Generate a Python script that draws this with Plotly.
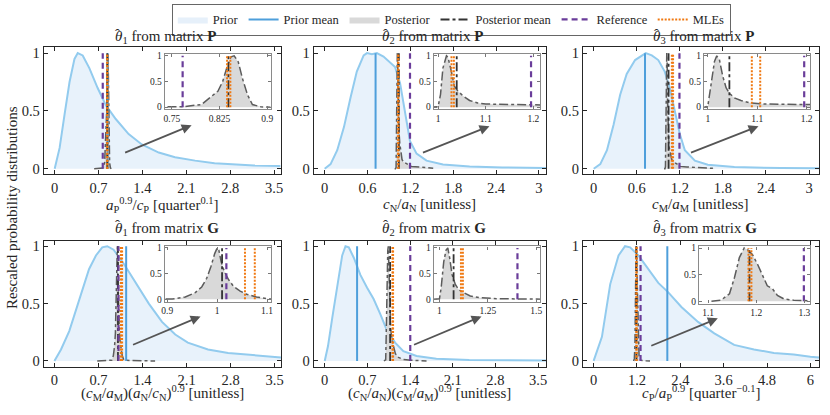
import plotly.graph_objects as go

# ---- panel text ----
titles = [
    "<i>θ</i><sub>1</sub> from matrix <b>P</b>",
    "<i>θ</i><sub>2</sub> from matrix <b>P</b>",
    "<i>θ</i><sub>3</sub> from matrix <b>P</b>",
    "<i>θ</i><sub>1</sub> from matrix <b>G</b>",
    "<i>θ</i><sub>2</sub> from matrix <b>G</b>",
    "<i>θ</i><sub>3</sub> from matrix <b>G</b>",
]
hat = "ˆ"
xlabels = [
    "<i>a</i><sub>P</sub><sup>0.9</sup>/<i>c</i><sub>P</sub> [quarter<sup>0.1</sup>]",
    "<i>c</i><sub>N</sub>/<i>a</i><sub>N</sub> [unitless]",
    "<i>c</i><sub>M</sub>/<i>a</i><sub>M</sub> [unitless]",
    "(<i>c</i><sub>M</sub>/<i>a</i><sub>M</sub>)(<i>a</i><sub>N</sub>/<i>c</i><sub>N</sub>)<sup>0.9</sup> [unitless]",
    "(<i>c</i><sub>N</sub>/<i>a</i><sub>N</sub>)(<i>c</i><sub>M</sub>/<i>a</i><sub>M</sub>)<sup>0.9</sup> [unitless]",
    "<i>c</i><sub>P</sub>/<i>a</i><sub>P</sub><sup>0.9</sup> [quarter<sup>−0.1</sup>]",
]
ylabel = "Rescaled probability distributions"

# ---- tick values ----
main_ticks = [
    [0, 0.7, 1.4, 2.1, 2.8, 3.5],
    [0, 0.6, 1.2, 1.8, 2.4, 3],
    [0, 0.6, 1.2, 1.8, 2.4, 3],
    [0, 0.7, 1.4, 2.1, 2.8, 3.5],
    [0, 0.7, 1.4, 2.1, 2.8, 3.5],
    [0, 1.2, 2.4, 3.6, 4.8, 6],
]
inset_ticks = [
    [0.75, 0.825, 0.9],
    [1, 1.1, 1.2],
    [1, 1.1, 1.2],
    [0.9, 1, 1.1],
    [1, 1.25, 1.5],
    [1.1, 1.2, 1.3],
]
y_ticks = [0, 0.5, 1]

# ---- prior curves ----
prior_x_P1 = [0, 0.079, 0.158, 0.237, 0.316, 0.368, 0.447, 0.553, 0.684, 0.816, 0.974, 1.18, 1.39, 1.66, 1.92, 2.24, 2.55, 2.87, 3.18, 3.6]
prior_y_P1 = [0, 0.18, 0.47, 0.75, 0.95, 1.0, 0.98, 0.87, 0.7, 0.55, 0.43, 0.3, 0.21, 0.14, 0.1, 0.07, 0.048, 0.037, 0.028, 0.023]
prior_x_P2 = [0, 0.083, 0.176, 0.27, 0.36, 0.45, 0.546, 0.593, 0.662, 0.731, 0.824, 0.917, 0.986, 1.056, 1.125, 1.194, 1.287, 1.426, 1.657, 2.03, 2.49, 3.1]
prior_y_P2 = [0, 0.04, 0.16, 0.36, 0.61, 0.84, 0.98, 1.0, 0.99, 1.0, 0.97, 0.92, 0.88, 0.74, 0.47, 0.24, 0.13, 0.07, 0.037, 0.02, 0.011, 0.006]
prior_x_P3 = [0, 0.092, 0.185, 0.277, 0.369, 0.46, 0.577, 0.669, 0.725, 0.81, 0.9, 0.99, 1.06, 1.13, 1.2, 1.27, 1.41, 1.59, 1.96, 2.61, 3.14]
prior_y_P3 = [0, 0.04, 0.16, 0.38, 0.64, 0.82, 0.94, 0.98, 1.0, 0.98, 0.94, 0.84, 0.7, 0.5, 0.3, 0.16, 0.07, 0.034, 0.014, 0.006, 0.003]
prior_x_G1 = [0, 0.105, 0.236, 0.39, 0.55, 0.66, 0.76, 0.84, 0.94, 1.1, 1.29, 1.5, 1.71, 1.92, 2.12, 2.44, 2.76, 3.07, 3.33, 3.6]
prior_y_G1 = [0, 0.1, 0.26, 0.53, 0.8, 0.92, 0.99, 1.0, 0.97, 0.85, 0.68, 0.5, 0.34, 0.23, 0.16, 0.1, 0.07, 0.057, 0.043, 0.03]
prior_x_G2 = [0, 0.054, 0.125, 0.206, 0.287, 0.341, 0.395, 0.477, 0.585, 0.693, 0.802, 0.91, 1.018, 1.154, 1.29, 1.506, 1.831, 2.37, 3.63]
prior_y_G2 = [0, 0.13, 0.38, 0.67, 0.92, 1.0, 0.99, 0.9, 0.75, 0.64, 0.54, 0.41, 0.27, 0.16, 0.085, 0.043, 0.02, 0.009, 0.003]
prior_x_G3 = [0, 0.23, 0.46, 0.69, 0.87, 1.01, 1.24, 1.51, 1.79, 2.06, 2.43, 2.89, 3.34, 3.89, 4.44, 4.99, 5.54, 6.0, 6.24]
prior_y_G3 = [0, 0.21, 0.67, 0.92, 1.0, 0.99, 0.92, 0.8, 0.68, 0.6, 0.47, 0.34, 0.24, 0.14, 0.1, 0.07, 0.057, 0.037, 0.03]

# ---- posterior curves ----
post_x_P1 = [0.63, 0.70, 0.7397, 0.7655, 0.7966, 0.8147, 0.8224, 0.830, 0.837, 0.843, 0.848, 0.8545, 0.861, 0.869, 0.8767, 0.890, 0.905]
post_y_P1 = [0, 0.002, 0.003, 0.006, 0.05, 0.24, 0.31, 0.5, 0.79, 0.98, 1.0, 0.88, 0.56, 0.24, 0.05, 0.006, 0.0]
post_x_P2 = [0.98, 0.991, 1.0, 1.005, 1.01, 1.0175, 1.0207, 1.0276, 1.034, 1.041, 1.052, 1.066, 1.083, 1.1, 1.134, 1.169, 1.197, 1.214, 1.3, 1.45, 1.52]
post_y_P2 = [0, 0, 0.01, 0.25, 0.76, 1.0, 0.97, 0.70, 0.41, 0.32, 0.22, 0.13, 0.08, 0.06, 0.045, 0.03, 0.025, 0.02, 0.015, 0.008, 0.004]
post_x_P3 = [0.98, 0.9933, 1.0, 1.0067, 1.0134, 1.018, 1.0235, 1.0302, 1.0369, 1.0436, 1.0537, 1.067, 1.087, 1.114, 1.148, 1.181, 1.207, 1.3, 1.5, 1.68]
post_y_P3 = [0, 0, 0.02, 0.43, 0.89, 1.0, 0.92, 0.6, 0.38, 0.27, 0.18, 0.13, 0.08, 0.06, 0.045, 0.03, 0.02, 0.015, 0.008, 0.003]
post_x_G1 = [0.68, 0.8, 0.896, 0.9098, 0.936, 0.956, 0.969, 0.979, 0.9875, 0.995, 1.0, 1.0033, 1.008, 1.0144, 1.023, 1.033, 1.046, 1.059, 1.0787, 1.105, 1.2, 1.4, 1.6]
post_y_G1 = [0, 0.002, 0.004, 0.006, 0.045, 0.13, 0.24, 0.41, 0.64, 0.89, 1.0, 0.96, 0.73, 0.54, 0.38, 0.25, 0.16, 0.1, 0.045, 0.006, 0.003, 0.001, 0]
post_x_G2 = [0.971, 1.0, 1.0085, 1.022, 1.034, 1.043, 1.053, 1.065, 1.082, 1.099, 1.125, 1.159, 1.21, 1.295, 1.415, 1.52, 1.67]
post_y_G2 = [0, 0.01, 0.22, 0.73, 0.96, 1.0, 0.8, 0.48, 0.29, 0.19, 0.13, 0.064, 0.03, 0.013, 0.006, 0.003, 0]
post_x_G3 = [1.107, 1.127, 1.1445, 1.155, 1.165, 1.175, 1.182, 1.192, 1.203, 1.213, 1.223, 1.234, 1.244, 1.258, 1.278, 1.312, 1.45, 1.56]
post_y_G3 = [0, 0.02, 0.14, 0.45, 0.82, 1.0, 0.97, 0.88, 0.69, 0.48, 0.29, 0.23, 0.11, 0.04, 0.02, 0.006, 0.002, 0]

# ---- summary values ----
prior_mean = [0.845, 0.713, 0.715, 1.14, 0.531, 2.04]
post_mean = [0.839, 1.039, 1.0436, 1.0098, 1.073, 1.186]
reference = [0.767, 1.195, 1.195, 1.0184, 1.403, 1.299]
mles = [
    [0.8369, 0.842],
    [1.028, 1.033],
    [1.089, 1.106],
    [1.0557, 1.0754],
    [1.111, 1.121],
    [1.184, 1.19],
]

prior_x = [prior_x_P1, prior_x_P2, prior_x_P3, prior_x_G1, prior_x_G2, prior_x_G3]
prior_y = [prior_y_P1, prior_y_P2, prior_y_P3, prior_y_G1, prior_y_G2, prior_y_G3]
post_x = [post_x_P1, post_x_P2, post_x_P3, post_x_G1, post_x_G2, post_x_G3]
post_y = [post_y_P1, post_y_P2, post_y_P3, post_y_G1, post_y_G2, post_y_G3]

# colours
PRIOR_LINE = "#92cbee"
PRIOR_FILL = "rgba(214,232,248,0.55)"
PRIOR_MEAN = "#4e9fdb"
POST_FILL = "#d9d9d9"
POST_LINE = "#5c5c5c"
POST_MEAN = "#333333"
REF = "#6a3d9a"
MLE = "#f07810"
AX = "#262626"
FONT = "Liberation Serif"

W, H = 830, 415

# pixel boxes (x0, x1, y0, y1) for main panels and insets
main_box = [
    (41, 280, 45, 174), (313, 547, 45, 174), (584, 822, 45, 174),
    (41, 280, 241, 369), (313, 547, 241, 369), (584, 822, 241, 369),
]
inset_box = [
    (163, 270, 52, 108), (434, 541, 52, 108), (706, 813, 52, 108),
    (163, 270, 247, 303), (434, 541, 247, 303), (701, 813, 247, 305),
]
main_range = [[-0.175, 3.61], [-0.153, 3.1], [-0.152, 3.14], [-0.17, 3.6], [-0.18, 3.63], [-0.3, 6.24]]
inset_range = [[0.739, 0.906], [0.991, 1.214], [0.992, 1.207], [0.895, 1.108], [0.971, 1.52], [1.081, 1.312]]
# arrows: tail (x, y) -> head (x, y) in pixels
arrows = [
    (122, 152, 190, 124), (422, 152, 490, 125), (692, 152, 761, 125),
    (130, 347, 199, 318), (413, 347, 482, 318), (652, 348, 720, 320),
]


def vlines(vals):
    xs, ys = [], []
    for v in vals:
        xs += [v, v, None]
        ys += [0, 1, None]
    return xs, ys


fig = go.Figure()

# legend-only entries
fig.add_trace(go.Scatter(x=[None], y=[None], mode="lines", fill="toself", fillcolor="#e6f0fa",
                         line=dict(width=0), name="Prior"))
fig.add_trace(go.Scatter(x=[None], y=[None], mode="lines", line=dict(color=PRIOR_MEAN, width=2),
                         name="Prior mean"))
fig.add_trace(go.Scatter(x=[None], y=[None], mode="lines", fill="toself", fillcolor=POST_FILL,
                         line=dict(width=0), name="Posterior"))
fig.add_trace(go.Scatter(x=[None], y=[None], mode="lines", line=dict(color=POST_MEAN, width=2, dash="dashdot"),
                         name="Posterior mean"))
fig.add_trace(go.Scatter(x=[None], y=[None], mode="lines", line=dict(color=REF, width=2.2, dash="6px,4px"),
                         name="Reference"))
fig.add_trace(go.Scatter(x=[None], y=[None], mode="lines", line=dict(color=MLE, width=2, dash="2px,1.5px"),
                         name="MLEs"))

for i in range(6):
    xa, ya = "x%d" % (i + 1), "y%d" % (i + 1)
    xi, yi = "x%d" % (i + 7), "y%d" % (i + 7)
    common = dict(showlegend=False, hoverinfo="skip")

    # main panel
    fig.add_trace(go.Scatter(x=prior_x[i], y=prior_y[i], mode="lines", fill="tozeroy", fillcolor=PRIOR_FILL,
                             line=dict(color=PRIOR_LINE, width=2), xaxis=xa, yaxis=ya, **common))
    fig.add_trace(go.Scatter(x=post_x[i], y=post_y[i], mode="lines", fill="tozeroy", fillcolor=POST_FILL,
                             line=dict(color=POST_LINE, width=1.5, dash="dashdot"), xaxis=xa, yaxis=ya, **common))
    lx, ly = vlines([prior_mean[i]])
    fig.add_trace(go.Scatter(x=lx, y=ly, mode="lines", line=dict(color=PRIOR_MEAN, width=2),
                             xaxis=xa, yaxis=ya, **common))
    lx, ly = vlines([post_mean[i]])
    fig.add_trace(go.Scatter(x=lx, y=ly, mode="lines", line=dict(color=POST_MEAN, width=1.8, dash="dashdot"),
                             xaxis=xa, yaxis=ya, **common))
    lx, ly = vlines([reference[i]])
    fig.add_trace(go.Scatter(x=lx, y=ly, mode="lines", line=dict(color=REF, width=2.2, dash="6px,4px"),
                             xaxis=xa, yaxis=ya, **common))
    lx, ly = vlines(mles[i])
    fig.add_trace(go.Scatter(x=lx, y=ly, mode="lines", line=dict(color=MLE, width=2, dash="2px,1.5px"),
                             xaxis=xa, yaxis=ya, **common))

    # inset
    fig.add_trace(go.Scatter(x=post_x[i], y=post_y[i], mode="lines", fill="tozeroy", fillcolor=POST_FILL,
                             line=dict(color=POST_LINE, width=1.5, dash="dashdot"), xaxis=xi, yaxis=yi, **common))
    lx, ly = vlines([post_mean[i]])
    fig.add_trace(go.Scatter(x=lx, y=ly, mode="lines", line=dict(color=POST_MEAN, width=1.8, dash="dashdot"),
                             xaxis=xi, yaxis=yi, **common))
    lx, ly = vlines([reference[i]])
    fig.add_trace(go.Scatter(x=lx, y=ly, mode="lines", line=dict(color=REF, width=2.2, dash="6px,4px"),
                             xaxis=xi, yaxis=yi, **common))
    lx, ly = vlines(mles[i])
    fig.add_trace(go.Scatter(x=lx, y=ly, mode="lines", line=dict(color=MLE, width=2, dash="2px,1.5px"),
                             xaxis=xi, yaxis=yi, **common))

layout = dict(
    width=W, height=H,
    margin=dict(l=0, r=0, t=0, b=0),
    paper_bgcolor="white", plot_bgcolor="white",
    font=dict(family=FONT, color=AX, size=14),
    legend=dict(orientation="h", x=0.544, xanchor="center", y=0.998, yanchor="top",
                bordercolor="#666666", borderwidth=1, font=dict(size=12.5),
                itemwidth=30, tracegroupgap=0),
)

annotations = []
for i in range(6):
    x0, x1, y0, y1 = main_box[i]
    layout["xaxis%d" % (i + 1)] = dict(
        domain=[x0 / W, x1 / W], anchor="y%d" % (i + 1), range=main_range[i],
        tickvals=main_ticks[i], ticks="inside", ticklen=4, tickcolor=AX,
        showline=True, linecolor=AX, linewidth=1, mirror="ticks", showgrid=False, zeroline=False,
        tickfont=dict(size=14.5),
    )
    layout["yaxis%d" % (i + 1)] = dict(
        domain=[1 - y1 / H, 1 - y0 / H], anchor="x%d" % (i + 1), range=[-0.05, 1.05],
        tickvals=y_ticks, ticks="inside", ticklen=4, tickcolor=AX,
        showline=True, linecolor=AX, linewidth=1, mirror="ticks", showgrid=False, zeroline=False,
        tickfont=dict(size=14.5),
    )
    ix0, ix1, iy0, iy1 = inset_box[i]
    layout["xaxis%d" % (i + 7)] = dict(
        domain=[ix0 / W, ix1 / W], anchor="y%d" % (i + 7), range=inset_range[i],
        tickvals=inset_ticks[i], ticks="inside", ticklen=3, tickcolor="#777777",
        showline=True, linecolor="#8a8a8a", linewidth=1.2, mirror="ticks", showgrid=False, zeroline=False,
        tickfont=dict(size=9.5),
    )
    layout["yaxis%d" % (i + 7)] = dict(
        domain=[1 - iy1 / H, 1 - iy0 / H], anchor="x%d" % (i + 7), range=[-0.045, 1.03],
        tickvals=y_ticks, ticks="inside", ticklen=3, tickcolor="#777777",
        showline=True, linecolor="#8a8a8a", linewidth=1.2, mirror="ticks", showgrid=False, zeroline=False,
        tickfont=dict(size=9.5),
    )
    cx = (x0 + x1) / 2
    tleft = cx - 50
    ty = 35 if i < 3 else 229
    ly = 205 if i < 3 else 396
    annotations.append(dict(text=titles[i], x=tleft / W, y=1 - ty / H, xref="paper", yref="paper",
                            showarrow=False, xanchor="left", yanchor="middle", font=dict(size=15)))
    annotations.append(dict(text=hat, x=(tleft + 5) / W, y=1 - (ty - 4) / H, xref="paper", yref="paper",
                            showarrow=False, xanchor="center", yanchor="middle", font=dict(size=15)))
    annotations.append(dict(text=xlabels[i], x=cx / W, y=1 - ly / H, xref="paper", yref="paper",
                            showarrow=False, xanchor="center", yanchor="middle", font=dict(size=15)))
    tx, tyy, hx, hy = arrows[i]
    annotations.append(dict(text="", x=hx / W, y=1 - hy / H, xref="paper", yref="paper",
                            ax=tx - hx, ay=tyy - hy, showarrow=True, arrowhead=2, arrowsize=1.1,
                            arrowwidth=1.8, arrowcolor="#555555"))

annotations.append(dict(text=ylabel, x=9 / W, y=1 - 207 / H, xref="paper", yref="paper",
                        showarrow=False, textangle=-90, xanchor="center", yanchor="middle",
                        font=dict(size=15)))
layout["annotations"] = annotations
fig.update_layout(**layout)

# page body has a default 8px margin; drop it so the figure sits at the window origin
fig.write_html("out.html", config={"displayModeBar": False},
               post_script="document.body.style.margin='0';")
